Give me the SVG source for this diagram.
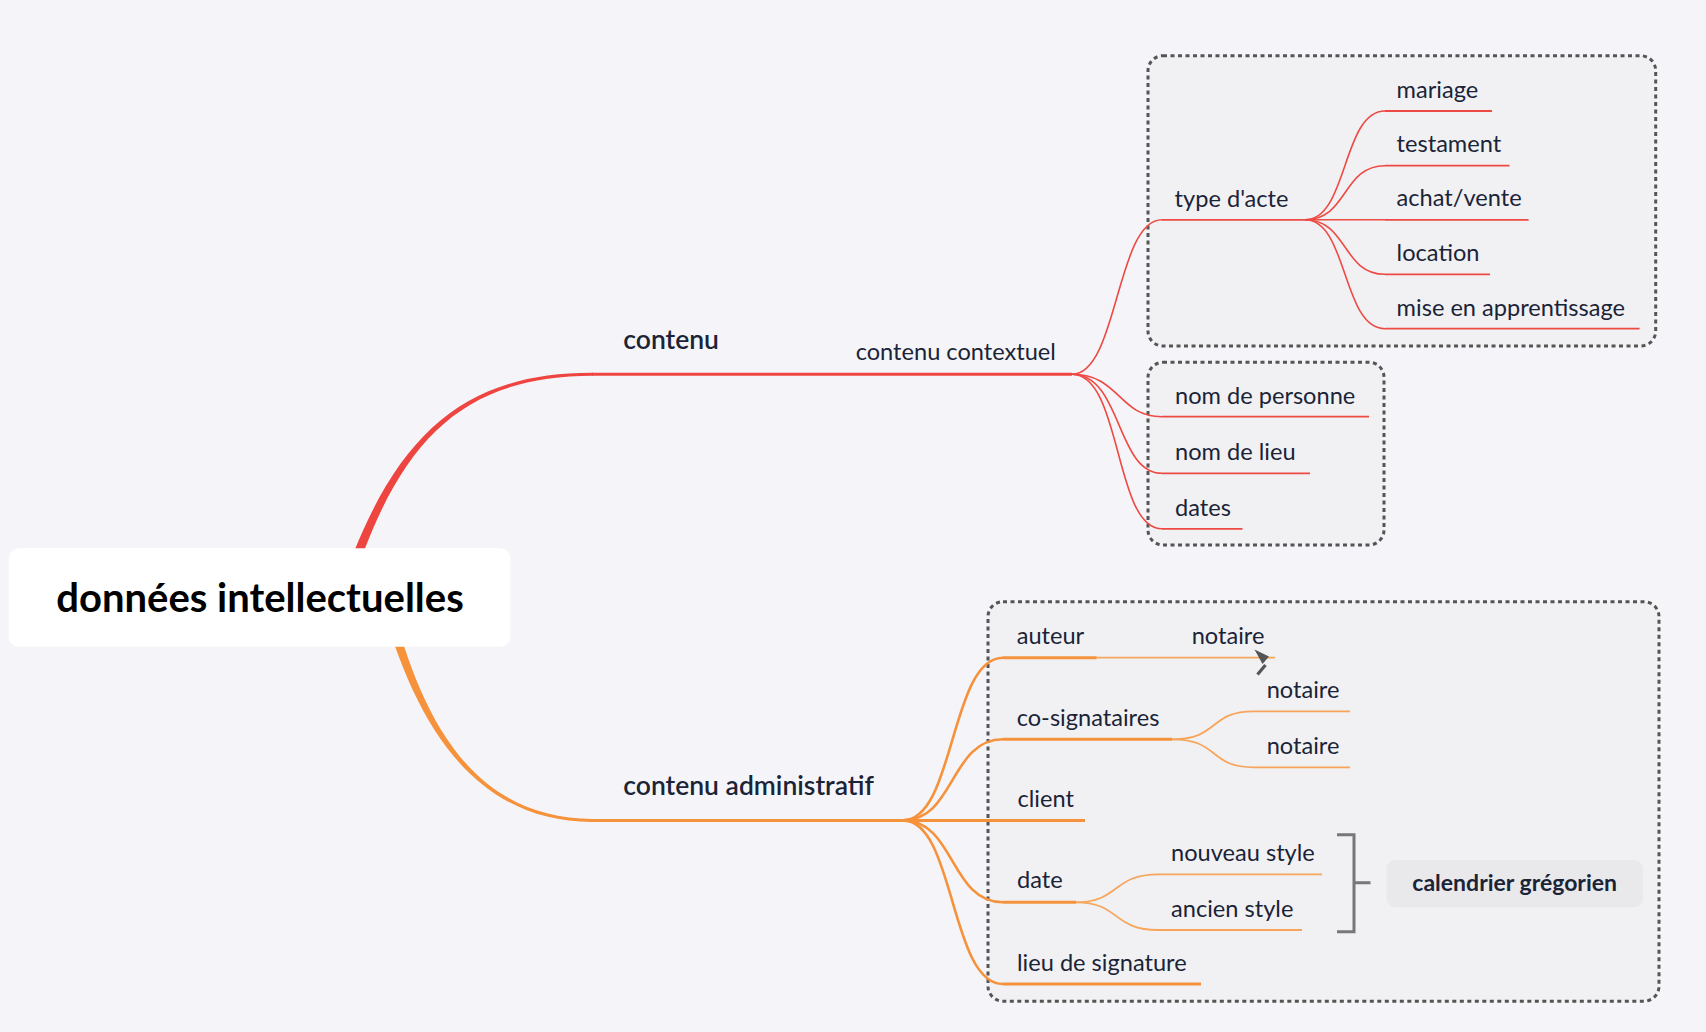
<svg xmlns="http://www.w3.org/2000/svg" width="1706" height="1032" viewBox="0 0 1706 1032">
<defs>
<style>
.t{font-family:Lato,"Liberation Sans",sans-serif;font-size:23.6px;fill:#1b2437}
.l1{font-size:26.5px;font-weight:600}
.root{font-size:40px;font-weight:bold;fill:#000}
.sum{font-size:23px;font-weight:bold}
.box{fill:#f1f1f4;stroke:#555;stroke-width:3;stroke-dasharray:4 3.5}
.r{fill:none;stroke:#ee4a44;stroke-width:1.6}
.ru{fill:none;stroke:#ee4a44;stroke-width:1.8}
.o{fill:none;stroke:#f5923b;stroke-width:2.6}
.ol{fill:none;stroke:#f6a55a;stroke-width:1.8}
</style>
</defs>
<rect width="1706" height="1032" fill="#f5f5f9"/>
<g id="boundaries">
<rect class="box" x="1148" y="55.7" width="507.7" height="290.3" rx="15"/>
<rect class="box" x="1148" y="362.3" width="236" height="182.7" rx="15"/>
<rect class="box" x="988" y="601.7" width="671" height="399.5" rx="15"/>
</g>
<g id="connectors">
<path d="M338.2,595.5 C389.7,438.9 460,372.3 593,372.8 L593,375.8 C460,376.3 396.3,441.1 347.8,598.5 Z" fill="#ee4540"/>
<path d="M380.2,598.3 C413.6,720.9 472,822.4 593,821.9 L593,818.9 C472,818.4 420.4,719.1 389.8,595.7 Z" fill="#f5923b"/>
<line x1="592" y1="374.3" x2="1072" y2="374.3" stroke="#ee4540" stroke-width="3"/>
<line x1="592" y1="820.4" x2="1085" y2="820.4" stroke="#f5923b" stroke-width="3"/>
<path class="r" d="M1072,374.3 C1118,374.3 1116,219.8 1162,219.8"/>
<path class="r" d="M1072,374.3 C1120,374.3 1118,416.7 1162,416.7"/>
<path class="r" d="M1072,374.3 C1122,374.3 1116,473.3 1162,473.3"/>
<path class="r" d="M1072,374.3 C1122,374.3 1114,528.8 1162,528.8"/>
<line class="ru" x1="1162" y1="219.8" x2="1306" y2="219.8"/>
<line class="ru" x1="1162" y1="416.7" x2="1369" y2="416.7"/>
<line class="ru" x1="1162" y1="473.3" x2="1310" y2="473.3"/>
<line class="ru" x1="1162" y1="528.8" x2="1242.5" y2="528.8"/>
<path class="r" d="M1305,219.8 C1348,219.8 1342,111 1385,111"/>
<path class="r" d="M1305,219.8 C1348,219.8 1342,165.7 1385,165.7"/>
<path class="r" d="M1305,219.8 L1385,219.8"/>
<path class="r" d="M1305,219.8 C1348,219.8 1342,274.3 1385,274.3"/>
<path class="r" d="M1305,219.8 C1348,219.8 1342,328.7 1385,328.7"/>
<line class="ru" x1="1385" y1="111" x2="1492" y2="111"/>
<line class="ru" x1="1385" y1="165.7" x2="1509.5" y2="165.7"/>
<line class="ru" x1="1385" y1="219.8" x2="1528.6" y2="219.8"/>
<line class="ru" x1="1385" y1="274.3" x2="1490" y2="274.3"/>
<line class="ru" x1="1385" y1="328.7" x2="1639.6" y2="328.7"/>
<path class="o" d="M903,820.4 C955,820.4 950,657.7 1003,657.7"/>
<path class="o" d="M903,820.4 C955,820.4 950,739.3 1003,739.3"/>
<path class="o" d="M903,820.4 C955,820.4 950,902.3 1003,902.3"/>
<path class="o" d="M903,820.4 C955,820.4 950,984 1003,984"/>
<line x1="1003" y1="657.7" x2="1096.7" y2="657.7" stroke="#f5923b" stroke-width="3"/>
<line class="ol" x1="1096.7" y1="657.7" x2="1179" y2="657.7" stroke-width="1.4"/>
<line class="ol" x1="1179" y1="657.7" x2="1275" y2="657.7" stroke="#f5923b"/>
<line x1="1003" y1="739.3" x2="1172" y2="739.3" stroke="#f5923b" stroke-width="3"/>
<path class="ol" d="M1172,739.3 C1220,739.3 1208,711.3 1254,711.3 L1350,711.3"/>
<path class="ol" d="M1172,739.3 C1220,739.3 1208,767.3 1254,767.3 L1350,767.3"/>
<line x1="1003" y1="902.3" x2="1076" y2="902.3" stroke="#f5923b" stroke-width="3"/>
<path class="ol" d="M1076,902.3 C1120,902.3 1112,874.3 1158.5,874.3 L1322,874.3"/>
<path class="ol" d="M1076,902.3 C1120,902.3 1112,930 1158.5,930 L1302,930"/>
<line x1="1003" y1="984" x2="1201" y2="984" stroke="#f5923b" stroke-width="3"/>
<path d="M1257.5,674.5 L1265.5,665" stroke="#555" stroke-width="3.2" fill="none"/>
<polygon points="1254.5,649.5 1269,656.5 1262.5,664" fill="#555"/>
<path d="M1337,834.7 H1354 V931.7 H1337 M1354,882.7 H1370.5" fill="none" stroke="#777" stroke-width="3"/>
</g>
<g id="root">
<rect x="8.7" y="548.3" width="501.6" height="98.4" rx="10" fill="#fff"/>
<text class="t root" x="260" y="611.5" text-anchor="middle">données intellectuelles</text>
</g>
<g id="n-contenu"><text class="t l1" x="623.3" y="349.3">contenu</text></g>
<g id="n-contenu-contextuel"><text class="t" x="855.7" y="360">contenu contextuel</text></g>
<g id="n-type-acte"><text class="t" x="1174.6" y="206.7">type d'acte</text></g>
<g id="n-mariage"><text class="t" x="1396.6" y="98">mariage</text></g>
<g id="n-testament"><text class="t" x="1396.6" y="152">testament</text></g>
<g id="n-achat"><text class="t" x="1396.6" y="206.3">achat/vente</text></g>
<g id="n-location"><text class="t" x="1396.6" y="260.7">location</text></g>
<g id="n-mise"><text class="t" x="1396.6" y="315.5">mise en apprentissage</text></g>
<g id="n-nom-personne"><text class="t" x="1175" y="403.5">nom de personne</text></g>
<g id="n-nom-lieu"><text class="t" x="1175" y="460">nom de lieu</text></g>
<g id="n-dates"><text class="t" x="1175" y="515.5">dates</text></g>
<g id="n-contenu-admin"><text class="t l1" x="623.3" y="795">contenu administratif</text></g>
<g id="n-auteur"><text class="t" x="1016.7" y="643.5">auteur</text></g>
<g id="n-notaire1"><text class="t" x="1191.7" y="643.5">notaire</text></g>
<g id="n-cosig"><text class="t" x="1016.7" y="725.5">co-signataires</text></g>
<g id="n-notaire2"><text class="t" x="1266.7" y="697.7">notaire</text></g>
<g id="n-notaire3"><text class="t" x="1266.7" y="753.5">notaire</text></g>
<g id="n-client"><text class="t" x="1017.5" y="807.3">client</text></g>
<g id="n-date"><text class="t" x="1017" y="888">date</text></g>
<g id="n-nouveau"><text class="t" x="1171" y="860.5">nouveau style</text></g>
<g id="n-ancien"><text class="t" x="1171" y="916.5">ancien style</text></g>
<g id="n-lieu-sig"><text class="t" x="1017" y="970.5">lieu de signature</text></g>
<g id="n-calendrier">
<rect x="1386.6" y="860" width="256.3" height="47.3" rx="9" fill="#e9e9ec"/>
<text class="t sum" x="1514.7" y="891" text-anchor="middle">calendrier grégorien</text>
</g>
</svg>
